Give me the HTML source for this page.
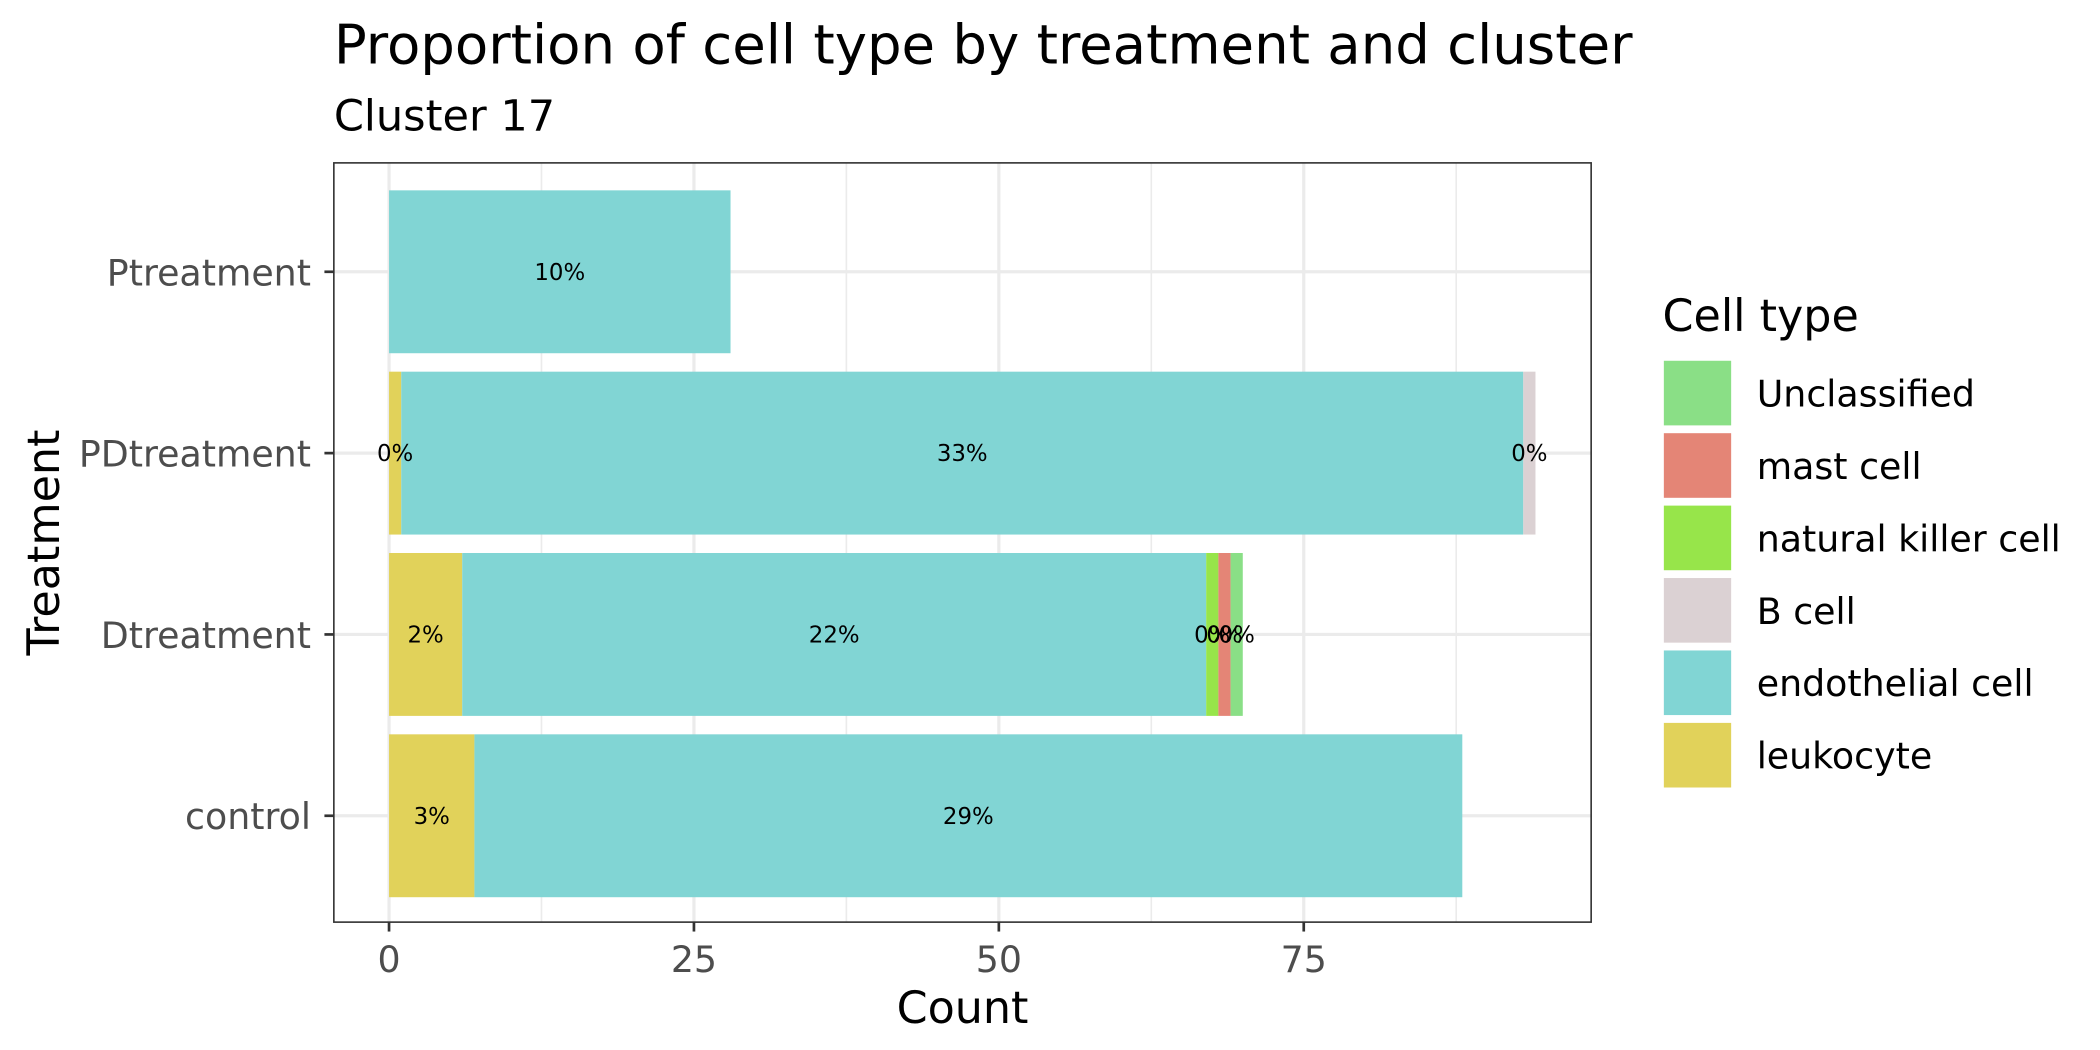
<!DOCTYPE html>
<html><head><meta charset="utf-8"><style>
html,body{margin:0;padding:0;background:#fff}
svg{display:block}
text{font-family:"DejaVu Sans","Liberation Sans",sans-serif}
</style></head><body>
<svg id="chart" width="2100" height="1050" viewBox="0 0 1560 780" xmlns="http://www.w3.org/2000/svg">
<rect width="1560" height="780" fill="#fff"/>
<text x="248" y="47" font-size="40.5" fill="#000">Proportion of cell type by treatment and cluster</text>
<text x="248" y="97" font-size="32" fill="#000">Cluster 17</text>
<g id="grid"></g>
<g id="bars"></g>
<g id="labels"></g>
<rect x="248" y="121" width="934" height="564" fill="none" stroke="#333" stroke-width="1.2"/>
<g id="axes"></g>
<text x="715" y="760" font-size="33" text-anchor="middle">Count</text>
<text transform="translate(44,403) rotate(-90)" font-size="33" text-anchor="middle">Treatment</text>
<g id="legend"></g>
</svg>
<script>
const categories = ["control","Dtreatment","PDtreatment","Ptreatment"];
const cellTypes = ["leukocyte","endothelial cell","B cell","natural killer cell","mast cell","Unclassified"];
const leukocyte = [7,6,1,0];
const endothelial = [81,61,92,28];
const bcell = [0,0,1,0];
const nkcell = [0,1,0,0];
const mastcell = [0,1,0,0];
const unclassified = [0,1,0,0];
const leukLabels = ["3%","2%","0%",""];
const endoLabels = ["29%","22%","33%","10%"];
const bLabels = ["","","0%",""];
const nkLabels = ["","0%","",""];
const mastLabels = ["","0%","",""];
const unclLabels = ["","0%","",""];
const xTicks = [0,25,50,75];
const xTickLabels = ["0","25","50","75"];

const colors = {"leukocyte":"#E1D25A","endothelial cell":"#81D5D4","B cell":"#DBD1D3","natural killer cell":"#97E54A","mast cell":"#E48576","Unclassified":"#8ADF86"};
const series = [leukocyte,endothelial,bcell,nkcell,mastcell,unclassified];
const seriesLabels = [leukLabels,endoLabels,bLabels,nkLabels,mastLabels,unclLabels];
const NS="http://www.w3.org/2000/svg";
const x = v => 289 + v*9.06;
const yc = i => 606 - i*134.7;
const bh = 121;
function mk(tag, attrs, parent){const e=document.createElementNS(NS,tag);for(const k in attrs)e.setAttribute(k,attrs[k]);parent.appendChild(e);return e;}
const grid=document.getElementById('grid'), bars=document.getElementById('bars'), labels=document.getElementById('labels'), axes=document.getElementById('axes'), legend=document.getElementById('legend');
for(let i=0;i<xTicks.length;i++){const v=xTicks[i]+12.5;const gx=x(v);if(gx<1182){const l=mk('line',{x1:gx,x2:gx,y1:121,y2:685,stroke:'#EBEBEB','stroke-width':1.2},grid);

}}
xTicks.forEach((v,i)=>{const l=mk('line',{x1:x(v),x2:x(v),y1:121,y2:685,stroke:'#EBEBEB','stroke-width':2.4},grid);


const t=mk('line',{x1:x(v),x2:x(v),y1:685,y2:692,stroke:'#333','stroke-width':2},axes);


const tx=mk('text',{x:x(v),y:722,'font-size':27,'text-anchor':'middle',fill:'#4D4D4D'},axes);tx.textContent=xTickLabels[i];

});
categories.forEach((c,i)=>{const y=yc(i);
const g=mk('line',{x1:248,x2:1182,y1:y,y2:y,stroke:'#EBEBEB','stroke-width':2.4},grid);


const t=mk('line',{x1:241,x2:248,y1:y,y2:y,stroke:'#333','stroke-width':2},axes);


const tx=mk('text',{x:231,y:y+10,'font-size':27,'text-anchor':'end',fill:'#4D4D4D'},axes);tx.textContent=c;


let acc=0;
series.forEach((s,k)=>{const v=s[i];if(v>0){const r=mk('rect',{x:x(acc),y:y-bh/2,width:x(acc+v)-x(acc),height:bh,fill:colors[cellTypes[k]]},bars);


const lb=seriesLabels[k][i];if(lb){const tt=mk('text',{x:x(acc+v/2),y:y+6,'font-size':17,'text-anchor':'middle',fill:'#000'},labels);tt.textContent=lb;

}}
acc+=v;});});
const lt=mk('text',{x:1235,y:246,'font-size':33},legend);lt.textContent='Cell type';


const legOrder=["Unclassified","mast cell","natural killer cell","B cell","endothelial cell","leukocyte"];
legOrder.forEach((n,i)=>{const y=268+i*53.8;
const r=mk('rect',{x:1236,y:y,width:50,height:48,fill:colors[n]},legend);


const t=mk('text',{x:1305,y:y+34,'font-size':27},legend);t.textContent=n;

});
</script>
</body></html>
